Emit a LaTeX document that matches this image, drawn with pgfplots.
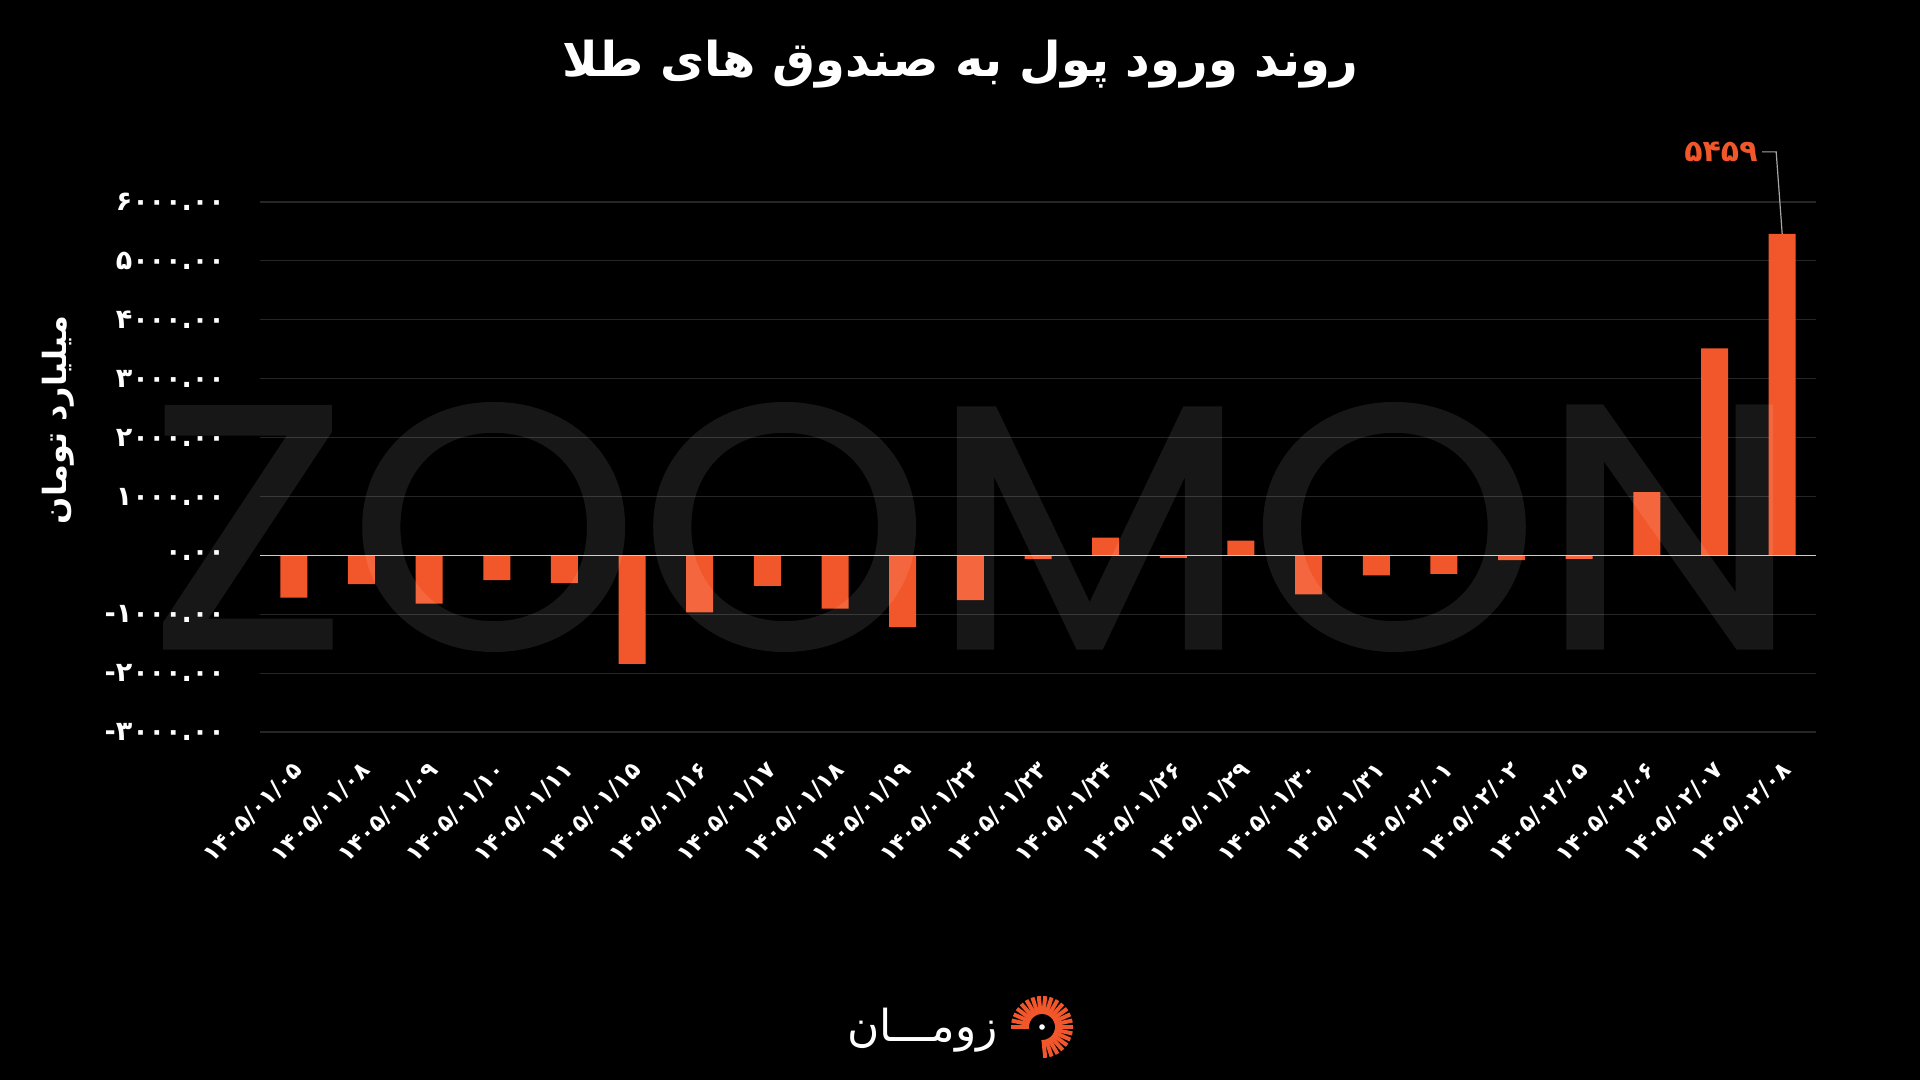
\documentclass[border=0pt]{standalone}
\usepackage{pgfplots}
\pgfplotsset{compat=1.18}
\usepackage{graphicx}
\usepackage{fontspec}
\setmainfont{DejaVu Sans}
\newfontfamily\arabicfont[Script=Arabic]{DejaVu Sans}
\newfontfamily\pfont[FakeBold=1]{Poppins}
\TeXXeTstate=1
\definecolor{barc}{HTML}{F2572B}
\definecolor{gridc}{HTML}{262626}
\newcommand{\mn}{\mbox{-}}
\begin{document}
\begin{tikzpicture}[x=1pt,y=1pt]
\fill[black] (0,0) rectangle (960,540);
\begin{axis}[
  at={(130pt,174pt)}, anchor=south west,
  scale only axis, width=778pt, height=265pt,
  xmin=-0.5, xmax=22.5, ymin=-3000, ymax=6000,
  axis line style={draw=none},
  major tick length=0pt,
  ytick={-3000,-2000,-1000,0,1000,2000,3000,4000,5000,6000},
  yticklabels={\mn\mbox{۳۰۰۰.۰۰},\mn\mbox{۲۰۰۰.۰۰},\mn\mbox{۱۰۰۰.۰۰},۰.۰۰,۱۰۰۰.۰۰,۲۰۰۰.۰۰,۳۰۰۰.۰۰,۴۰۰۰.۰۰,۵۰۰۰.۰۰,۶۰۰۰.۰۰},
  xtick={0,...,22},
  xticklabels={۱۴۰۵/۰۱/۰۵,۱۴۰۵/۰۱/۰۸,۱۴۰۵/۰۱/۰۹,۱۴۰۵/۰۱/۱۰,۱۴۰۵/۰۱/۱۱,۱۴۰۵/۰۱/۱۵,۱۴۰۵/۰۱/۱۶,۱۴۰۵/۰۱/۱۷,۱۴۰۵/۰۱/۱۸,۱۴۰۵/۰۱/۱۹,۱۴۰۵/۰۱/۲۲,۱۴۰۵/۰۱/۲۳,۱۴۰۵/۰۱/۲۴,۱۴۰۵/۰۱/۲۶,۱۴۰۵/۰۱/۲۹,۱۴۰۵/۰۱/۳۰,۱۴۰۵/۰۱/۳۱,۱۴۰۵/۰۲/۰۱,۱۴۰۵/۰۲/۰۲,۱۴۰۵/۰۲/۰۵,۱۴۰۵/۰۲/۰۶,۱۴۰۵/۰۲/۰۷,۱۴۰۵/۰۲/۰۸},
  ymajorgrids, grid style={gridc, line width=0.6pt},
  yticklabel style={font=\arabicfont\bfseries\fontsize{13.5}{15}\selectfont, text=white, anchor=east, xshift=-14pt},
  xticklabel style={font=\arabicfont\bfseries\fontsize{11.5}{13}\selectfont, text=white, rotate=45, anchor=east, xshift=-7pt, yshift=-14pt},
  ybar, bar width=13.5pt,
  clip=false,
]
\addplot[fill=barc, draw=none] coordinates {
(0,-720) (1,-490) (2,-820) (3,-420) (4,-470) (5,-1845) (6,-970) (7,-520)
(8,-905) (9,-1220) (10,-760) (11,-65) (12,300) (13,-45) (14,250) (15,-665)
(16,-340) (17,-315) (18,-80) (19,-60) (20,1075) (21,3515) (22,5459)};
\draw[white!80!black, line width=0.8pt] (axis cs:-0.5,0) -- (axis cs:22.5,0);
\draw[white!65!black, line width=0.6pt] (axis cs:22,5459) -- ++(-3pt,41pt) -- ++(-7pt,0pt)
  node[anchor=east, inner sep=2pt, text=barc, font=\arabicfont\bfseries\fontsize{15}{17}\selectfont] {۵۴۵۹};
\end{axis}
% title
\node[text=white, font=\arabicfont\bfseries\fontsize{24}{28}\selectfont] at (480pt,508pt) {\beginR روند ورود پول به صندوق های طلا\endR};
% y label
\node[rotate=90, text=white, font=\arabicfont\bfseries\fontsize{16}{18}\selectfont] at (29pt,330pt) {\beginR میلیارد تومان\endR};
% logo
\node[anchor=east, text=white, inner sep=0pt, font=\arabicfont\fontsize{22}{24}\selectfont] at (499pt,25pt) {\beginR زومـــان\endR};
\foreach \a in {-84,-72,...,186} {
  \draw[barc, line width=2pt] (521pt,26.5pt) ++(\a:6.5pt) -- ++(\a:9pt);
}
\fill[white] (521pt,26.5pt) circle (1.4pt);
% watermark
\begin{scope}[transparency group, opacity=0.09]
\node[text=white, font=\pfont, inner sep=0pt] at (487pt,276.5pt) {\resizebox{826pt}{122pt}{ZOOMON}};
\end{scope}
\pgfresetboundingbox
\path (0,0) rectangle (960,540);
\end{tikzpicture}
\end{document}
